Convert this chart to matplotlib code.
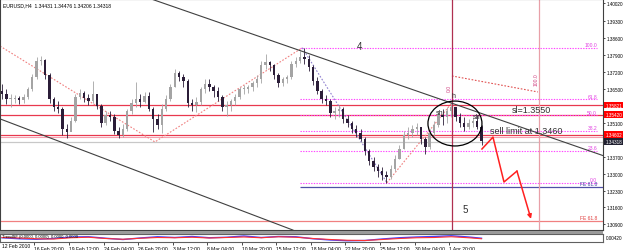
import numpy as np
import matplotlib
matplotlib.use("Agg")
import matplotlib.pyplot as plt
import matplotlib.transforms as mtransforms
from matplotlib.patches import Ellipse

plt.rcParams["font.family"] = ["Liberation Sans", "DejaVu Sans"]

# EURUSD H4, drawn as 8-hour bars (x axis counts H4 bars)
bar_step = 2
first_open = 1.3640
highs = [1.3669, 1.3648, 1.3628, 1.3623, 1.3619, 1.3628, 1.3656, 1.3710, 1.3780, 1.3784,
         1.3772, 1.3714, 1.3615, 1.3599, 1.3574, 1.3504, 1.3533, 1.3628, 1.3648, 1.3640,
         1.3628, 1.3681, 1.3628, 1.3586, 1.3558, 1.3558, 1.3545, 1.3492, 1.3504, 1.3566,
         1.3607, 1.3677, 1.3628, 1.3636, 1.3636, 1.3574, 1.3545, 1.3586, 1.3623, 1.3669,
         1.3731, 1.3722, 1.3710, 1.3689, 1.3607, 1.3615, 1.3656, 1.3689, 1.3689, 1.3665,
         1.3656, 1.3623, 1.3599, 1.3607, 1.3628, 1.3656, 1.3665, 1.3665, 1.3681, 1.3706,
         1.3764, 1.3792, 1.3764, 1.3751, 1.3714, 1.3698, 1.3706, 1.3764, 1.3780, 1.3805,
         1.3818, 1.3788, 1.3747, 1.3698, 1.3648, 1.3623, 1.3607, 1.3574, 1.3582, 1.3574,
         1.3541, 1.3516, 1.3500, 1.3483, 1.3450, 1.3401, 1.3368, 1.3339, 1.3327, 1.3310,
         1.3335, 1.3376, 1.3418, 1.3475, 1.3492, 1.3500, 1.3508, 1.3492, 1.3450, 1.3483,
         1.3516, 1.3558, 1.3566, 1.3574, 1.3595, 1.3574, 1.3549, 1.3533, 1.3525, 1.3533,
         1.3541, 1.3500]
lows = [1.3607, 1.3586, 1.3574, 1.3591, 1.3586, 1.3591, 1.3607, 1.3640, 1.3689, 1.3747,
        1.3689, 1.3591, 1.3558, 1.3549, 1.3459, 1.3446, 1.3475, 1.3512, 1.3607, 1.3595,
        1.3582, 1.3591, 1.3566, 1.3492, 1.3500, 1.3516, 1.3463, 1.3446, 1.3450, 1.3475,
        1.3545, 1.3574, 1.3574, 1.3591, 1.3558, 1.3471, 1.3483, 1.3467, 1.3558, 1.3599,
        1.3656, 1.3681, 1.3656, 1.3574, 1.3558, 1.3553, 1.3582, 1.3632, 1.3640, 1.3615,
        1.3599, 1.3558, 1.3537, 1.3558, 1.3582, 1.3607, 1.3628, 1.3632, 1.3640, 1.3656,
        1.3673, 1.3731, 1.3722, 1.3689, 1.3656, 1.3661, 1.3673, 1.3689, 1.3739, 1.3755,
        1.3751, 1.3722, 1.3665, 1.3628, 1.3591, 1.3582, 1.3533, 1.3525, 1.3533, 1.3508,
        1.3492, 1.3467, 1.3450, 1.3434, 1.3376, 1.3335, 1.3310, 1.3286, 1.3273, 1.3262,
        1.3277, 1.3310, 1.3360, 1.3401, 1.3442, 1.3450, 1.3459, 1.3422, 1.3380, 1.3401,
        1.3450, 1.3492, 1.3500, 1.3508, 1.3533, 1.3516, 1.3492, 1.3475, 1.3483, 1.3492,
        1.3483, 1.3418]
closes = [1.3628, 1.3607, 1.3607, 1.3611, 1.3603, 1.3615, 1.3648, 1.3698, 1.3764, 1.3768,
          1.3706, 1.3607, 1.3574, 1.3566, 1.3483, 1.3471, 1.3516, 1.3615, 1.3632, 1.3611,
          1.3599, 1.3628, 1.3578, 1.3508, 1.3541, 1.3533, 1.3475, 1.3459, 1.3483, 1.3558,
          1.3591, 1.3607, 1.3595, 1.3619, 1.3566, 1.3525, 1.3500, 1.3566, 1.3607, 1.3656,
          1.3714, 1.3698, 1.3681, 1.3591, 1.3582, 1.3595, 1.3648, 1.3669, 1.3656, 1.3640,
          1.3615, 1.3574, 1.3582, 1.3599, 1.3615, 1.3648, 1.3648, 1.3656, 1.3673, 1.3689,
          1.3747, 1.3759, 1.3747, 1.3706, 1.3673, 1.3689, 1.3698, 1.3751, 1.3764, 1.3780,
          1.3772, 1.3739, 1.3681, 1.3640, 1.3607, 1.3599, 1.3549, 1.3558, 1.3566, 1.3525,
          1.3508, 1.3483, 1.3467, 1.3442, 1.3393, 1.3352, 1.3327, 1.3310, 1.3294, 1.3286,
          1.3319, 1.3360, 1.3401, 1.3459, 1.3467, 1.3483, 1.3492, 1.3442, 1.3409, 1.3467,
          1.3500, 1.3541, 1.3533, 1.3558, 1.3574, 1.3533, 1.3508, 1.3492, 1.3508, 1.3516,
          1.3492, 1.3432]

time_ticks = [15, 31, 47, 63, 79, 95, 111, 127, 143, 159, 175, 191, 207]
time_labels = ["16 Feb 20:00", "19 Feb 12:00", "24 Feb 04:00", "26 Feb 20:00",
               "3 Mar 12:00", "8 Mar 04:00", "10 Mar 20:00", "15 Mar 12:00",
               "18 Mar 04:00", "22 Mar 20:00", "25 Mar 12:00", "30 Mar 04:00",
               "1 Apr 20:00"]
price_ticks = [1.4002, 1.3930, 1.3860, 1.3790, 1.3720, 1.3650, 1.3510,
               1.3370, 1.3300, 1.3230, 1.3160, 1.3090]

# horizontal objects
red_levels = [1.35821, 1.35420, 1.34602]
bid_price = 1.34318
fib_high, fib_low = 1.3818, 1.3262
fib_levels = [100.0, 61.8, 50.0, 38.2, 23.6, 0.0]
fib_start, fib_end = 138, 275.5
fe_blue, fe_red = 1.3244, 1.3104

# trend lines and dotted swing lines (H4 bar index, price)
upper_x, upper_y = [69.1, 278.2], [1.4019, 1.3374]
lower_x, lower_y = [-0.9, 134.7], [1.3525, 1.3067]
swing_x, swing_y = [-0.9, 70.8, 139.0], [1.3825, 1.3430, 1.3818]
drop_x, drop_y = [139.0, 178.2], [1.3818, 1.3262]
rise_x, rise_y = [178.2, 208.3], [1.3262, 1.3591]
time_fib_x, time_fib_y = [208.3, 248.1], [1.3702, 1.3636]
vline_0, vline_100 = 208.3, 248.6
plan_x = [222.2, 227.3, 232.4, 238.4, 244.9]
plan_y = [1.3401, 1.3450, 1.3265, 1.3310, 1.3113]

# oscillator sub-window
osc_x = [0, 8, 16, 24, 32, 40, 48, 56, 64, 72, 80, 88, 96, 104, 112, 120, 128,
         136, 144, 152, 160, 168, 176, 184, 192, 200, 208, 216, 222]
osc_red = [0.2, 0.0, -0.3, -0.4, 0.1, 0.3, -0.2, -0.5, -0.1, 0.2, 0.1, 0.3, 0.0,
           0.2, 0.4, 0.1, 0.5, 0.3, -0.2, -0.6, -0.9, -1.0, -0.6, -0.2, 0.1, 0.2,
           0.5, 0.1, -0.3]
osc_blue = [0.1, -0.3, -0.5, -0.2, 0.4, 0.5, -0.1, -0.6, 0.0, 0.5, 0.2, 0.6, 0.1,
            0.3, 0.8, 0.2, 0.6, 0.5, -0.3, -0.8, -1.1, -1.0, -0.4, 0.1, 0.4, 0.6,
            0.9, 0.4, -0.1]

W, H = 625, 251
fig = plt.figure(figsize=(W / 100, H / 100), dpi=100)
fig.patch.set_facecolor("white")

ax = fig.add_axes([0, 20 / H, 603 / W, 231 / H])
ax.set_xlim(-0.93, 278.24)
ax.set_ylim(1.30673, 1.4019)

# candles
xs = np.arange(len(closes)) * bar_step
opens = [first_open] + closes[:-1]
for x, o, h, l, c in zip(xs, opens, highs, lows, closes):
    col = "#a4a4a4" if c >= o else "#2b1d38"
    ax.vlines(x, l, h, color=col, lw=0.6, zorder=3)
    ax.bar(x, max(abs(c - o), 0.0003), bottom=min(o, c), width=1.1,
           color=col, zorder=3)

# full-width red levels
for p in red_levels:
    ax.axhline(p, color="#e8384f", lw=0.9, zorder=2)
ax.axhline(red_levels[2] - 0.0008, color="#f4a0b0", lw=0.8, zorder=2)
ax.axhline(bid_price, color="#c8c8c8", lw=0.9, zorder=1)
ax.axhline(fe_red, color="#f08080", lw=0.9, zorder=2)
ax.hlines(fe_blue, fib_start, 278.24, color="#5050a8", lw=0.9, zorder=2)
ax.text(fib_end, fe_red + 0.0003, "FE 61.8", color="#e04040", fontsize=3.6,
        ha="right", va="bottom")
ax.text(fib_end, fe_blue + 0.0003, "FE 61.8", color="#4040a0", fontsize=3.6,
        ha="right", va="bottom")

# fibonacci retracement
for lvl in fib_levels:
    p = fib_low + lvl / 100 * (fib_high - fib_low)
    ax.hlines(p, fib_start, fib_end, color="#ff44ff", lw=0.8,
              linestyles=(0, (1.2, 1.2)), zorder=2)
    ax.text(fib_end, p + 0.0003, f"{lvl:.1f}", color="#e040e0", fontsize=3.6,
            ha="right", va="bottom")

# trend channel
ax.plot(upper_x, upper_y, color="#404040", lw=0.8, zorder=4)
ax.plot(lower_x, lower_y, color="#404040", lw=0.8, zorder=4)

# dotted swing lines
ax.plot(swing_x, swing_y, color="#f08080", lw=0.8, ls=(0, (1.5, 1.5)), zorder=2)
ax.plot(drop_x, drop_y, color="#9080d0", lw=0.8, ls=(0, (1.5, 1.5)), zorder=2)
ax.plot(rise_x, rise_y, color="#f08080", lw=0.8, ls=(0, (1.5, 1.5)), zorder=2)
ax.plot(time_fib_x, time_fib_y, color="#e05050", lw=0.8, ls=(0, (1.5, 1.5)), zorder=2)

# vertical time lines
ax.axvline(vline_0, color="#b03050", lw=0.9, zorder=2)
ax.axvline(vline_100, color="#e8a0a8", lw=0.9, zorder=2)
ax.text(vline_0 - 1.2, 1.3656, "0.0", color="#d04080", fontsize=3.6,
        rotation=90, ha="center", va="center")
ax.text(vline_100 - 1.2, 1.3689, "100.0", color="#d04080", fontsize=3.6,
        rotation=90, ha="center", va="center")

# head & shoulders mark and trade plan
ax.add_patch(Ellipse((209.7, 1.3506), 25.0, 0.0185, fill=False,
                     ec="black", lw=0.9, zorder=5))
ax.text(202.8, 1.3553, "sh", fontsize=5, color="#303030", ha="center", va="center", zorder=6)
ax.text(208.8, 1.3623, "h", fontsize=5, color="#303030", ha="center", va="center", zorder=6)
ax.text(219.9, 1.3533, "sh", fontsize=5, color="#303030", ha="center", va="center", zorder=6)
ax.text(236.1, 1.3562, "sl=1.3550", fontsize=6.5, color="#303030", va="center")
ax.text(225.9, 1.3479, "sell limit at 1.3460", fontsize=6.5, color="#303030",
        va="center")
ax.text(165.7, 1.3825, "4", fontsize=7, color="#303030", ha="center", va="center")
ax.text(214.4, 1.3154, "5", fontsize=7, color="#303030", ha="center", va="center")

ax.plot(plan_x[:-1], plan_y[:-1], color="#ff2020", lw=1.1, zorder=6)
ax.annotate("", xy=(plan_x[-1], plan_y[-1]), xytext=(plan_x[-2], plan_y[-2]),
            arrowprops=dict(arrowstyle="-|>", color="#ff2020", lw=1.1,
                            mutation_scale=6, shrinkA=0, shrinkB=0), zorder=6)

ax.text(0.005, 0.985, "EURUSD,H4  1.34431 1.34476 1.34206 1.34318",
        transform=ax.transAxes, fontsize=3.6, ha="left", va="top")

# right price scale
ax.yaxis.tick_right()
ax.set_yticks(price_ticks)
ax.set_yticklabels([f"{p:.5f}" for p in price_ticks], fontsize=3.3)
ax.tick_params(axis="y", length=1.5, width=0.5, pad=1)
ax.set_xticks([])
for s in ax.spines.values():
    s.set_linewidth(0.8)
    s.set_color("#404040")

trans = mtransforms.blended_transform_factory(ax.transAxes, ax.transData)
for p, bg in [(red_levels[0], "#ff0000"), (red_levels[1], "#ff0000"),
              (red_levels[2], "#ff0000"), (bid_price, "#202030")]:
    ax.text(1.004, p, f"{p:.5f}", transform=trans, fontsize=3.3, color="white",
            ha="left", va="center", clip_on=False,
            bbox=dict(boxstyle="square,pad=0.2", fc=bg, ec="none"))

# separator band
fig.patches.append(plt.Rectangle((0, 16 / H), 603 / W, 3 / H, transform=fig.transFigure,
                                 fc="#9a9a9a", ec="none", figure=fig))

# oscillator sub-window
ax2 = fig.add_axes([0, 8 / H, 603 / W, 8 / H])
ax2.set_xlim(-0.93, 278.24)
ax2.set_ylim(-1.6, 1.6)
ax2.plot(osc_x, osc_blue, color="#4040ff", lw=1.0)
ax2.plot(osc_x, osc_red, color="#ff3030", lw=0.8)
ax2.set_yticks([])
ax2.set_xticks(time_ticks)
ax2.set_xticklabels(time_labels, fontsize=3.6, ha="left")
ax2.tick_params(axis="x", length=2, width=0.5, pad=1)
for s in ax2.spines.values():
    s.set_linewidth(0.8)
    s.set_color("#606060")
ax2.text(0.003, 0.95, "TrendSF (0.0000, 0.0000)  0.0000  0.0000", transform=ax2.transAxes,
         fontsize=3.0, ha="left", va="top")
ax2.text(1.004, 0.5, "0.00420", transform=ax2.transAxes, fontsize=3.3,
         ha="left", va="center")
fig.text(2 / W, 1 - 247 / H, "12 Feb 2010", fontsize=3.6, ha="left", va="center")

fig.savefig("out.png", dpi=100)
